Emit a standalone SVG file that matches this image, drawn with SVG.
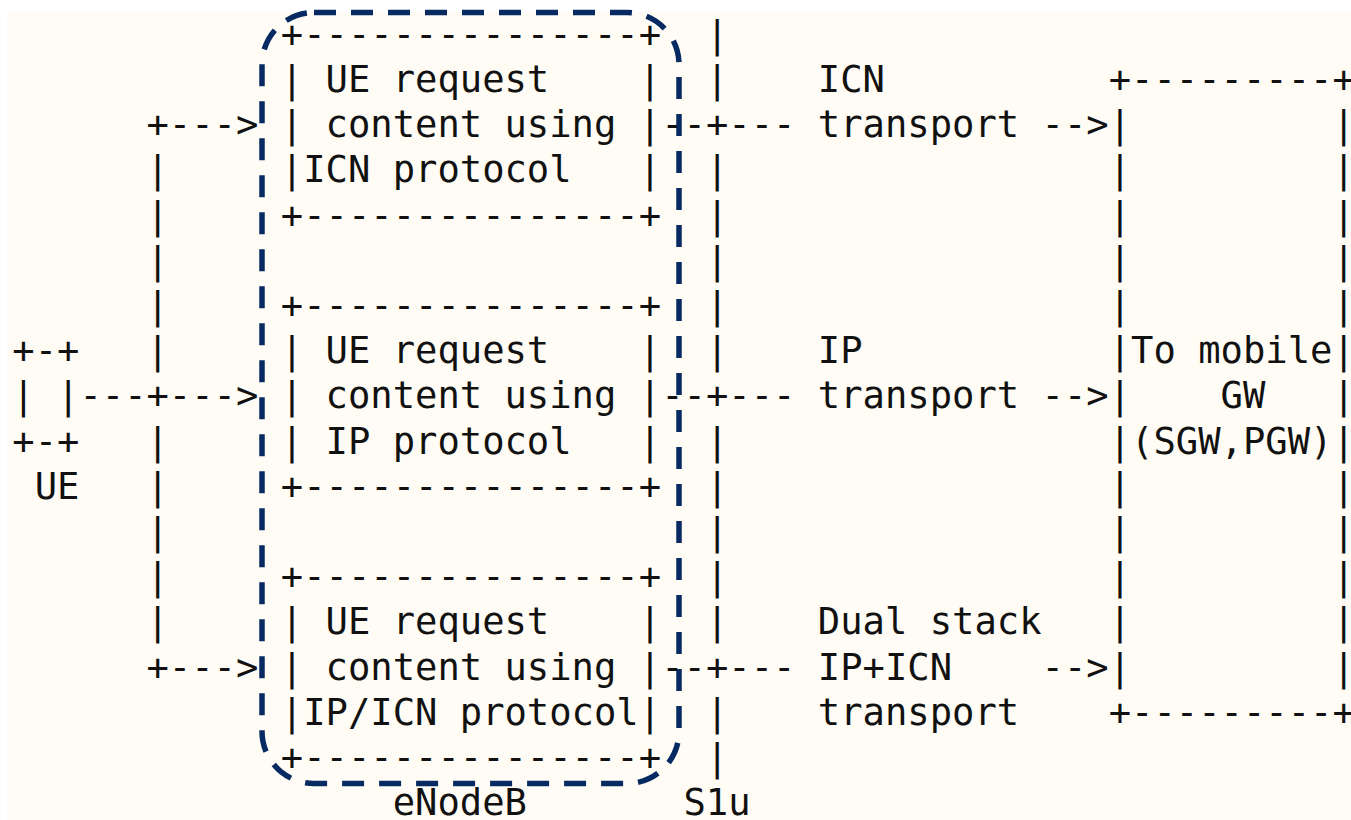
<svg xmlns="http://www.w3.org/2000/svg" width="1351" height="820" viewBox="0 0 1351 820" xml:space="preserve">
  <style>
    text { font-family: "DejaVu Sans Mono", "Liberation Mono", monospace; font-size: 37.16px; fill: #111111; white-space: pre; }
    .frame { fill: none; stroke: #072a62; stroke-width: 5.5; stroke-dasharray: 22 15; }
  </style>
  <!-- page -->
  <rect x="0" y="0" width="1351" height="820" fill="#ffffff"/>
  <rect x="7" y="12" width="1344" height="808" fill="#fffcf5"/>

  <!-- character grid: column c starts at x = 12.3 + 22.375c, row r baseline at y = 46.8 + 45.2r -->

  <!-- UE -->
  <g id="ue">
    <text x="12.3" y="363.2">+-+</text>
    <text x="12.3" y="408.4">| |</text>
    <text x="12.3" y="453.6">+-+</text>
    <text x="34.7" y="498.8">UE</text>
  </g>

  <!-- eNodeB: ICN request box -->
  <g id="enb-icn">
    <text x="280.8" y="46.8">+---------------+</text>
    <text x="280.8" y="92">| UE request    |</text>
    <text x="280.8" y="137.2">| content using |</text>
    <text x="280.8" y="182.4">|ICN protocol   |</text>
    <text x="280.8" y="227.6">+---------------+</text>
  </g>

  <!-- eNodeB: IP request box -->
  <g id="enb-ip">
    <text x="280.8" y="318">+---------------+</text>
    <text x="280.8" y="363.2">| UE request    |</text>
    <text x="280.8" y="408.4">| content using |</text>
    <text x="280.8" y="453.6">| IP protocol   |</text>
    <text x="280.8" y="498.8">+---------------+</text>
  </g>

  <!-- eNodeB: dual-stack request box -->
  <g id="enb-dual">
    <text x="280.8" y="589.2">+---------------+</text>
    <text x="280.8" y="634.4">| UE request    |</text>
    <text x="280.8" y="679.6">| content using |</text>
    <text x="280.8" y="724.8">|IP/ICN protocol|</text>
    <text x="280.8" y="770">+---------------+</text>
  </g>

  <!-- eNodeB grouping outline -->
  <g id="enodeb">
    <rect class="frame" x="262" y="12.5" width="417" height="771" rx="52" ry="52"/>
    <text x="392.7" y="815.2">eNodeB</text>
  </g>

  <!-- S1u interface line -->
  <g id="s1u">
    <text x="705.9" y="46.8">|</text>
    <text x="705.9" y="92">|</text>
    <text x="705.9" y="182.4">|</text>
    <text x="705.9" y="227.6">|</text>
    <text x="705.9" y="272.8">|</text>
    <text x="705.9" y="318">|</text>
    <text x="705.9" y="363.2">|</text>
    <text x="705.9" y="453.6">|</text>
    <text x="705.9" y="498.8">|</text>
    <text x="705.9" y="544">|</text>
    <text x="705.9" y="589.2">|</text>
    <text x="705.9" y="634.4">|</text>
    <text x="705.9" y="724.8">|</text>
    <text x="705.9" y="770">|</text>
    <text x="683.5" y="815.2">S1u</text>
  </g>

  <!-- mobile gateway -->
  <g id="gateway">
    <text x="1108.7" y="92">+---------+</text>
    <text x="1108.7" y="137.2">|         |</text>
    <text x="1108.7" y="182.4">|         |</text>
    <text x="1108.7" y="227.6">|         |</text>
    <text x="1108.7" y="272.8">|         |</text>
    <text x="1108.7" y="318">|         |</text>
    <text x="1108.7" y="363.2">|To mobile|</text>
    <text x="1108.7" y="408.4">|    GW   |</text>
    <text x="1108.7" y="453.6">|(SGW,PGW)|</text>
    <text x="1108.7" y="498.8">|         |</text>
    <text x="1108.7" y="544">|         |</text>
    <text x="1108.7" y="589.2">|         |</text>
    <text x="1108.7" y="634.4">|         |</text>
    <text x="1108.7" y="679.6">|         |</text>
    <text x="1108.7" y="724.8">+---------+</text>
  </g>

  <!-- connectors -->
  <g id="connectors">
    <!-- UE fan-out to the three request boxes -->
    <text x="146.5" y="137.2">+---&gt;</text>
    <text x="146.5" y="182.4">|</text>
    <text x="146.5" y="227.6">|</text>
    <text x="146.5" y="272.8">|</text>
    <text x="146.5" y="318">|</text>
    <text x="146.5" y="363.2">|</text>
    <text x="79.4" y="408.4">---+---&gt;</text>
    <text x="146.5" y="453.6">|</text>
    <text x="146.5" y="498.8">|</text>
    <text x="146.5" y="544">|</text>
    <text x="146.5" y="589.2">|</text>
    <text x="146.5" y="634.4">|</text>
    <text x="146.5" y="679.6">+---&gt;</text>

    <!-- eNodeB across S1u towards the gateway -->
    <text x="661.2" y="137.2">--+---</text>
    <text x="661.2" y="408.4">--+---</text>
    <text x="661.2" y="679.6">--+---</text>
    <text x="1041.6" y="137.2">--&gt;</text>
    <text x="1041.6" y="408.4">--&gt;</text>
    <text x="1041.6" y="679.6">--&gt;</text>

    <!-- transport labels -->
    <text x="817.8" y="92">ICN</text>
    <text x="817.8" y="137.2">transport</text>
    <text x="817.8" y="363.2">IP</text>
    <text x="817.8" y="408.4">transport</text>
    <text x="817.8" y="634.4">Dual stack</text>
    <text x="817.8" y="679.6">IP+ICN</text>
    <text x="817.8" y="724.8">transport</text>
  </g>
</svg>
